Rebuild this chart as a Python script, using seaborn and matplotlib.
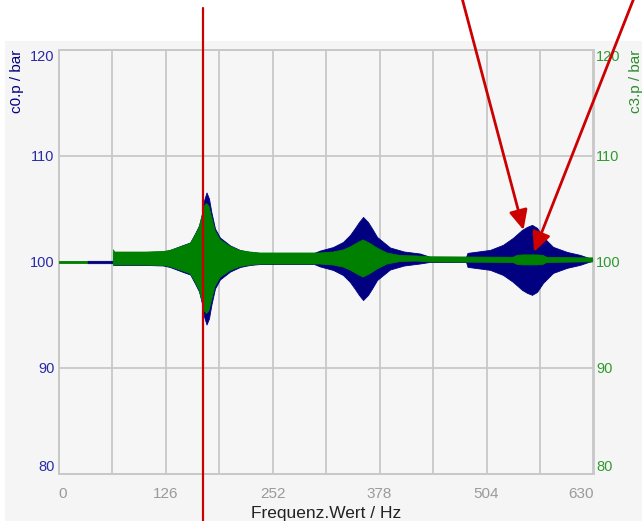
import numpy as np
import pandas as pd
import matplotlib
matplotlib.use("Agg")
import matplotlib.pyplot as plt
from matplotlib.patches import FancyArrowPatch, Rectangle
from matplotlib.ticker import MultipleLocator
import seaborn as sns

# c0.p envelope: frequency (Hz), centre (bar), half span (bar)
c0_freq = [33.5, 64.5, 64.7, 103, 123, 131, 146.5, 155, 160.7, 165.4, 168.9, 171.3,
           174.2, 177.1, 180, 184.2, 190, 202, 213.7, 225.4, 237.2, 292.6, 300.8,
           307.9, 323.2, 335, 343.2, 349.1, 353.8, 358.6, 364.4, 369.2, 375.1, 386.8,
           390.3, 406.8, 425.6, 437.4, 479.9, 481.6, 508.1, 523.4, 535.2, 545.8,
           551.7, 557.6, 563.5, 570.6, 582.3, 598.8, 614.1, 629.4]
c0_mid = [100.0, 100.0] + [100.33] * 35 + [100.25, 100.25] + [100.2] * 13
c0_half = [0.11, 0.11, 0.61, 0.61, 0.66, 0.80, 1.27, 1.51, 2.36, 3.11, 4.25, 5.47,
           6.23, 5.66, 4.34, 2.83, 1.98, 1.23, 0.80, 0.61, 0.52, 0.52, 0.52,
           0.75, 1.08, 1.56, 2.22, 2.88, 3.44, 3.92, 3.44, 2.83, 2.03, 1.27,
           1.04, 0.66, 0.47, 0.24, 0.24, 0.66, 0.94, 1.42, 2.08, 2.83,
           3.11, 3.30, 3.02, 2.17, 1.23, 0.75, 0.47, 0.05]

# c3.p envelope (NaN centre = no signal)
c3_freq = [0, 33.5, 50, 64.7, 66, 103, 123, 131, 146.5, 155, 160.7, 165.4, 168.9,
           171.3, 174.2, 177.1, 180, 184.2, 190, 202, 213.7, 225.4, 237.2, 292.6,
           307.9, 323.2, 335, 343.2, 351.5, 358.6, 366.8, 375.1, 386.8, 402.1,
           422.1, 437.4, 535.2, 539.9, 547, 563.5, 570.6, 575, 620, 630]
c3_mid = [100.0, 100.0, np.nan, 100.4] + [100.33] * 31 + [100.25] + [100.2] * 8
c3_half = [0.09, 0.09, 0.0, 0.75, 0.61, 0.61, 0.66, 0.75, 1.18, 1.42, 2.17, 2.92, 3.96,
           4.91, 5.19, 4.91, 3.96, 2.64, 1.79, 1.13, 0.75, 0.61, 0.52, 0.52,
           0.52, 0.61, 0.80, 1.08, 1.46, 1.75, 1.42, 0.99, 0.52, 0.28,
           0.24, 0.24, 0.24, 0.42, 0.47, 0.47, 0.42, 0.24, 0.19, 0.19]

x_ticks = [0, 126, 252, 378, 504, 630]
y_ticks = [80, 90, 100, 110, 120]
cursor_freq = 170.5

navy = "#000080"
green = "#008000"
grid_c = "#c8c8c8"
red = "#cc0000"

sns.set_theme(style="whitegrid")
plt.rcParams["font.family"] = ["Liberation Sans", "DejaVu Sans"]

df0 = pd.DataFrame({"freq": c0_freq, "mid": c0_mid, "half": c0_half})
df3 = pd.DataFrame({"freq": c3_freq, "mid": c3_mid, "half": c3_half})

fig = plt.figure(figsize=(6.42, 5.21), dpi=100, facecolor="white")
fig.add_artist(Rectangle((5 / 642, 0), 1, (521 - 41) / 521, transform=fig.transFigure,
                         facecolor="#f5f5f5", edgecolor="none", zorder=-10))

ax = fig.add_axes([58.6 / 642, 1 - 474 / 521, (593.5 - 58.6) / 642, 424 / 521])
ax.set_facecolor("#f6f6f6")
ax.fill_between(df0["freq"], df0["mid"] - df0["half"], df0["mid"] + df0["half"],
                color=navy, linewidth=0.6, edgecolor=navy, zorder=3)

ax.set_xlim(0, 630)
ax.set_ylim(80, 120)
ax.set_xticks(x_ticks)
ax.xaxis.set_minor_locator(MultipleLocator(63))
ax.set_yticks(y_ticks)
ax.grid(True, which="both", axis="x", color=grid_c, linewidth=1.3)
ax.grid(True, which="major", axis="y", color=grid_c, linewidth=1.3)
ax.tick_params(axis="both", which="both", length=0)
ax.tick_params(axis="x", pad=9, labelsize=11, labelcolor="#9a9a9a")
ax.tick_params(axis="y", pad=3, labelsize=10.5, labelcolor="#2a2aa8")
ax.set_xlabel("Frequenz.Wert / Hz", fontsize=12.5, color="#222222", labelpad=4)
ax.set_ylabel("c0.p / bar", fontsize=11, color=navy, loc="top", labelpad=4)

ax2 = ax.twinx()
ax2.fill_between(df3["freq"], df3["mid"] - df3["half"], df3["mid"] + df3["half"],
                 color=green, linewidth=0.6, edgecolor=green, zorder=3)
ax2.set_ylim(80, 120)
ax2.set_yticks(y_ticks)
ax2.grid(False)
ax2.tick_params(axis="y", length=0, pad=2, labelsize=10.5, labelcolor="#2f9a2f")
ax2.set_ylabel("c3.p / bar", fontsize=11, color="#2e8b2e", loc="top", labelpad=6,
               rotation=90)

for a in (ax, ax2):
    for s in a.spines.values():
        s.set_color(grid_c)
        s.set_linewidth(1.3)

xl = ax.get_xticklabels()
xl[0].set_ha("left")
xl[-1].set_ha("right")
for a in (ax, ax2):
    yl = a.get_yticklabels()
    yl[0].set_va("bottom")
    yl[-1].set_va("top")

ax2.axvline(cursor_freq, ymin=(474 - 521) / 424, ymax=(474 - 8) / 424,
            color=red, linewidth=1.6, clip_on=False, zorder=5)

for start, tip in [((462, -2), (523.5, 230)), ((634, -2), (534, 252))]:
    fig.add_artist(FancyArrowPatch(
        (start[0] / 642, 1 - start[1] / 521), (tip[0] / 642, 1 - tip[1] / 521),
        transform=fig.transFigure, arrowstyle="-|>,head_length=0.85,head_width=0.4",
        mutation_scale=14, color=red, linewidth=2.0, shrinkA=0, shrinkB=0, zorder=10))

fig.savefig("out.png", dpi=100, facecolor=fig.get_facecolor())
